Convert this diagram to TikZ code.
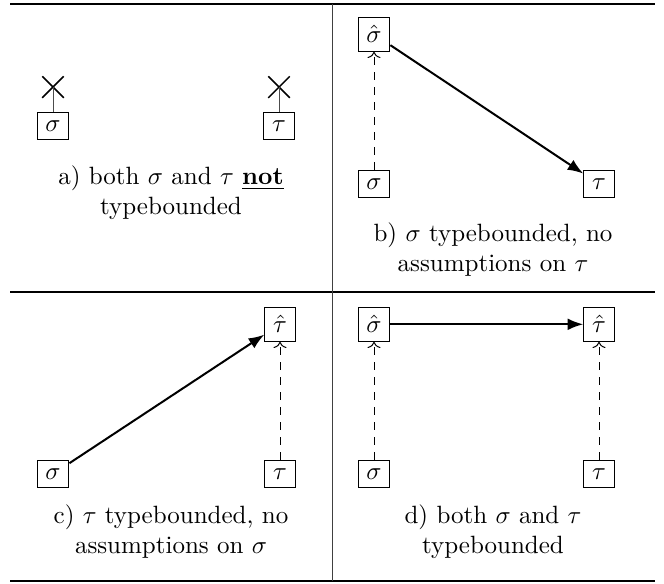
\documentclass[tikz,border=0pt]{standalone}
\usepackage{tikz}
\usetikzlibrary{arrows.meta,positioning,shapes.misc}

\begin{document}
\begin{tikzpicture}[x=0.4pt,y=-0.4pt,
  var/.style={draw,inner sep=3.33pt},
  nobound/.style={cross out,draw,semithick,minimum size=8pt,inner sep=0pt},
  caption/.style={align=center},
  arrow/.style={-{Latex[length=2.2mm]},thick},
  bound/.style={->,dashed},
  stub/.style={draw=black!70},
  toprule/.style={line width=0.8pt},
  midrule/.style={line width=0.5pt},
  sep/.style={draw=black!75,line width=0.4pt}
]
\useasboundingbox (0,0) rectangle (664,583);
% table rules
\draw[toprule] (10,3.5) -- (655,3.5);
\draw[midrule] (10,292) -- (655,292);
\draw[toprule] (10,580.5) -- (655,580.5);
\draw[sep] (332,3.5) -- (332,580.5);

% a) neither typebounded
\node[var] (sigA) at (53,126) {$\sigma$};
\node[var] (tauA) at (279,126) {$\tau$};
\node[nobound,above=5.6pt of sigA] (xsig) {};
\node[nobound,above=5.6pt of tauA] (xtau) {};
\draw[stub] (sigA) -- (xsig.center);
\draw[stub] (tauA) -- (xtau.center);
\node[caption] (capA) at (171,193) {a) both $\sigma$ and $\tau$ \underline{\textbf{not}}\\typebounded};

% b) sigma typebounded
\node[var] (sigB) at (374,184) {$\sigma$};
\node[var] (tauB) at (599,184) {$\tau$};
\node[var,above=47.2pt of sigB] (shatB) {$\hat{\sigma}$};
\draw[bound] (sigB) -- (shatB);
\draw[arrow] (shatB) -- (tauB);
\node[caption] (capB) at (493,250) {b) $\sigma$ typebounded, no\\assumptions on $\tau$};

% c) tau typebounded
\node[var] (sigC) at (53,474) {$\sigma$};
\node[var] (tauC) at (280,474) {$\tau$};
\node[var,above=47.2pt of tauC] (thatC) {$\hat{\tau}$};
\draw[bound] (tauC) -- (thatC);
\draw[arrow] (sigC) -- (thatC);
\node[caption] (capC) at (171,532) {c) $\tau$ typebounded, no\\assumptions on $\sigma$};

% d) both typebounded
\node[var] (sigD) at (374,474) {$\sigma$};
\node[var] (tauD) at (599,474) {$\tau$};
\node[var,above=47.2pt of sigD] (shatD) {$\hat{\sigma}$};
\node[var,above=47.2pt of tauD] (thatD) {$\hat{\tau}$};
\draw[bound] (sigD) -- (shatD);
\draw[bound] (tauD) -- (thatD);
\draw[arrow] (shatD) -- (thatD);
\node[caption] (capD) at (493,532) {d) both $\sigma$ and $\tau$\\typebounded};
\end{tikzpicture}
\end{document}
